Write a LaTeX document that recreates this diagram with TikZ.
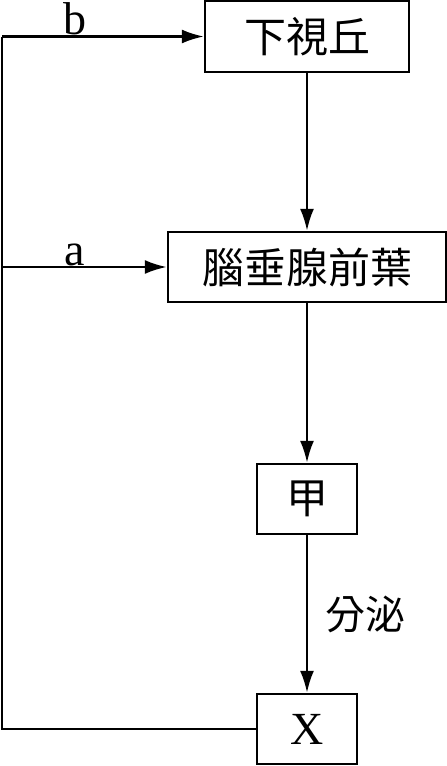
\documentclass[tikz,border=0pt]{standalone}
\usepackage{fontspec}
\setmainfont{Liberation Serif}
\newfontfamily\cjk{Noto Sans CJK TC}
\usetikzlibrary{arrows.meta}
\begin{document}
\begin{tikzpicture}[x=1pt,y=-1pt,
  box/.style={draw,line width=2.4pt,inner sep=0pt,font=\cjk\fontsize{42}{46}\selectfont},
  conn/.style={line width=2.4pt,-{Latex[length=22pt,width=14pt]}},
  plain/.style={line width=2.4pt},
  lbl/.style={font=\fontsize{46}{50}\selectfont}]
\useasboundingbox (0,0) rectangle (447,766);
\node[box,minimum width=204pt,minimum height=71pt] (h) at (307,36.5) {下視丘};
\node[box,minimum width=278pt,minimum height=70pt] (p) at (307,267) {腦垂腺前葉};
\node[box,minimum width=100pt,minimum height=70pt] (j) at (307,499) {甲};
\node[box,minimum width=100pt,minimum height=70pt,font=\fontsize{46}{50}\selectfont] (x) at (307,729) {X};
\coordinate (c1) at (2,729);
\coordinate (c2) at (2,36.5);
\coordinate (c3) at (2,267);
\draw[conn] (h) -- (p);
\draw[conn] (p) -- (j);
\draw[conn] (j) -- (x) node[midway,right=14pt,font=\cjk\fontsize{40}{44}\selectfont] (fm) {分泌};
\draw[plain] (x.west) -- (c1) -- (c2);
\draw[conn] (c2) -- (h.west) node[pos=0.36,above=-3pt,lbl] (lb) {b};
\draw[conn] (c3) -- (p.west) node[pos=0.44,above=-3pt,lbl] (la) {a};
\end{tikzpicture}
\end{document}
